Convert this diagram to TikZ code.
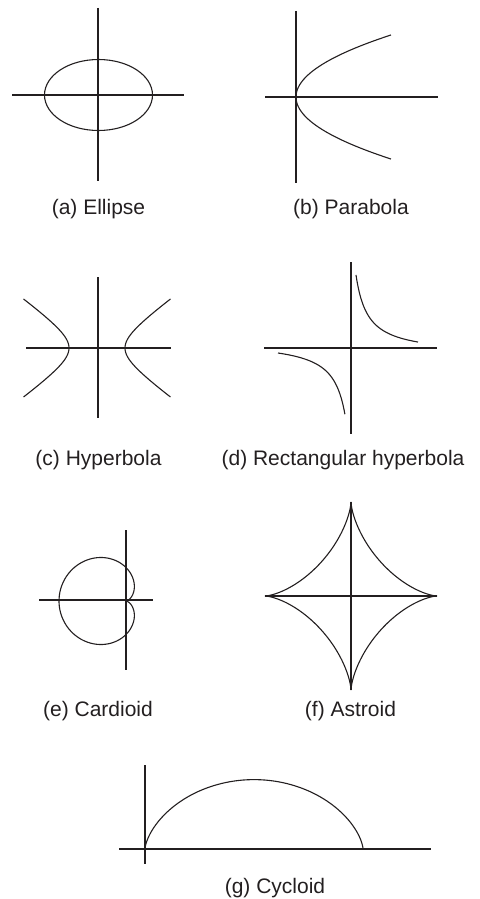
\documentclass[tikz,border=0pt]{standalone}
\usepackage{fontspec}
\setmainfont{Liberation Sans}
\usepackage{tikz}
\usetikzlibrary{positioning}
\definecolor{ink}{HTML}{231F20}
\tikzset{
  eje/.style={draw=ink,line width=1.8pt},
  curva/.style={draw=ink,line width=1.1pt},
  etiqueta/.style={font=\fontsize{21}{25}\selectfont,color=ink,anchor=base,inner sep=0pt},
}
\begin{document}
\begin{tikzpicture}[x=1pt,y=-1pt]
  \useasboundingbox (0,0) rectangle (479,899);
  % (a) ellipse
  \draw[eje] (98,8) -- (98,181);
  \draw[eje] (12,95) -- (184,95);
  \draw[curva] (98.5,95) ellipse [x radius=54, y radius=35.5];
  \node[etiqueta] (lbla) at (98.5,214) {(a) Ellipse};
  % (b) parabola
  \draw[eje] (296,11) -- (296,183);
  \draw[eje] (265,97) -- (438,97);
  \draw[curva] plot[domain=-62:62,samples=60,smooth] ({296+0.0247*\x*\x},{97+\x});
  \node[etiqueta] (lblb) at (351,214) {(b) Parabola};
  % (c) hyperbola
  \draw[eje] (98,277) -- (98,418);
  \draw[eje] (26,348) -- (171,348);
  \draw[curva] plot[domain=-1.62:1.62,samples=60,smooth] ({97+28*cosh(\x)},{348+20.2*sinh(\x)});
  \draw[curva] plot[domain=-1.62:1.62,samples=60,smooth] ({97-28*cosh(\x)},{348+20.2*sinh(\x)});
  \node[etiqueta] (lblc) at (98.5,465) {(c) Hyperbola};
  % (d) rectangular hyperbola
  \draw[eje] (351,262) -- (351,434);
  \draw[eje] (264,348) -- (437,348);
  \draw[curva] plot[domain=11.9:73.9,samples=80,smooth] ({344.1+\x},{354.9-951/\x});
  \draw[curva] plot[domain=13:79.9,samples=80,smooth] ({357.9-\x},{341.1+951/\x});
  \node[etiqueta] (lbld) at (343,465) {(d) Rectangular hyperbola};
  % (e) cardioid
  \draw[eje] (126,530) -- (126,670);
  \draw[eje] (39,600) -- (153,600);
  \draw[curva] plot[domain=0:360,samples=120,smooth] ({126+33.5*(1-cos(\x))*cos(\x)},{601+33.5*(1-cos(\x))*sin(\x)});
  \node[etiqueta] (lble) at (98,716) {(e) Cardioid};
  % (f) astroid
  \draw[eje] (351,502) -- (351,690);
  \draw[eje] (265,596) -- (437,596);
  \draw[curva] plot[domain=0:360,samples=241] ({351+86*cos(\x)^3},{596+94*sin(\x)^3});
  \node[etiqueta] (lblf) at (350.5,716) {(f) Astroid};
  % (g) cycloid
  \draw[eje] (145,765) -- (145,864);
  \draw[eje] (119,849) -- (431,849);
  \draw[curva] plot[domain=0:6.2832,samples=100,smooth] ({145+34.7*(\x-sin(\x r))},{849-34.7*(1-cos(\x r))});
  \node[etiqueta] (lblg) at (275,893) {(g) Cycloid};
\end{tikzpicture}
\end{document}
